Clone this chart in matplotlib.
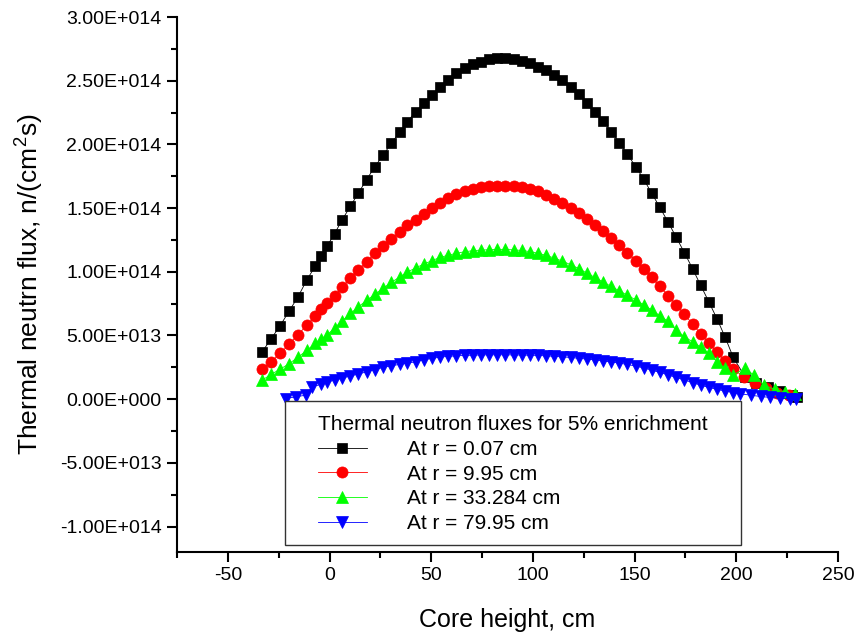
import matplotlib
matplotlib.use("Agg")
import matplotlib.pyplot as plt
from matplotlib.ticker import MultipleLocator, FuncFormatter
from matplotlib.patches import Rectangle

plt.rcParams['font.family'] = ['Liberation Sans', 'DejaVu Sans']
plt.rcParams['mathtext.fontset'] = 'custom'
plt.rcParams['mathtext.rm'] = 'Liberation Sans'
plt.rcParams['mathtext.it'] = 'Liberation Sans'
plt.rcParams['axes.unicode_minus'] = False

# Core height grid (cm)
x_main = [-33.1, -28.7, -24.3, -19.9, -15.6, -11.2, -7.0, -4.1, -1.1, 2.5, 6.3, 10.3,
          14.2, 18.2, 22.3, 26.4, 30.4, 34.4, 38.3, 42.3, 46.4, 50.4, 54.3, 58.3,
          62.4, 66.4, 70.3, 74.3, 78.3, 82.4, 86.5, 90.5, 94.6, 98.7, 102.6, 106.6,
          110.6, 114.5, 118.5, 122.5, 126.5, 130.5, 134.5, 138.5, 142.5, 146.5,
          150.5, 154.5, 158.4, 162.4, 166.5, 170.5, 174.5, 178.5, 182.4, 186.5,
          190.5, 194.4, 198.5]

# r = 0.07 cm  (units of 1e14)
x_r1 = x_main + [204.5, 209.5, 215.5, 221.5, 227.5, 230.0]
y_r1 = [0.372, 0.474, 0.576, 0.691, 0.80, 0.935, 1.045, 1.126, 1.204, 1.30, 1.41, 1.516,
        1.618, 1.723, 1.825, 1.917, 2.008, 2.095, 2.178, 2.257, 2.323, 2.388, 2.449, 2.506,
        2.558, 2.598, 2.629, 2.65, 2.668, 2.676, 2.676, 2.67, 2.658, 2.637, 2.61, 2.58,
        2.545, 2.506, 2.453, 2.393, 2.328, 2.257, 2.184, 2.10, 2.013, 1.922,
        1.825, 1.726, 1.616, 1.506, 1.388, 1.27, 1.149, 1.024, 0.896, 0.764,
        0.631, 0.49, 0.328,
        0.17, 0.13, 0.095, 0.06, 0.035, 0.02]

# r = 9.95 cm
x_r2 = x_main + [203.7, 209.4, 214.4, 220.1, 225.8]
y_r2 = [0.233, 0.293, 0.359, 0.43, 0.503, 0.581, 0.652, 0.705, 0.757, 0.81, 0.88, 0.953,
        1.013, 1.079, 1.144, 1.204, 1.26, 1.314, 1.367, 1.41, 1.455, 1.497, 1.537, 1.58,
        1.613, 1.636, 1.653, 1.665, 1.672, 1.676, 1.676, 1.673, 1.665, 1.652, 1.632, 1.606,
        1.575, 1.54, 1.50, 1.458, 1.414, 1.367, 1.318, 1.265, 1.21, 1.15,
        1.088, 1.02, 0.955, 0.885, 0.812, 0.74, 0.665, 0.59, 0.515, 0.44,
        0.37, 0.30, 0.235,
        0.175, 0.123, 0.084, 0.05, 0.031]

# r = 33.284 cm
x_r3 = x_main + [204.2, 208.6, 213.5, 218.9, 223.9, 228.8]
y_r3 = [0.149, 0.195, 0.235, 0.278, 0.328, 0.383, 0.437, 0.47, 0.505, 0.56, 0.615, 0.673,
        0.725, 0.775, 0.823, 0.872, 0.917, 0.958, 0.998, 1.03, 1.06, 1.088, 1.112, 1.13,
        1.145, 1.157, 1.165, 1.17, 1.173, 1.175, 1.175, 1.172, 1.167, 1.158, 1.145, 1.128,
        1.107, 1.083, 1.056, 1.025, 0.99, 0.955, 0.92, 0.885, 0.85, 0.815,
        0.78, 0.74, 0.70, 0.655, 0.61, 0.54, 0.49, 0.45, 0.41, 0.359,
        0.293, 0.241, 0.189,
        0.241, 0.19, 0.11, 0.076, 0.057, 0.037]

# r = 79.95 cm
x_r4 = [-21.6, -16.7, -11.8, -8.5, -4.4] + x_main[8:] + [202.0, 207.0, 211.9, 216.8, 221.7, 226.6, 229.5]
y_r4 = [0.005, 0.018, 0.031, 0.097, 0.115,
        0.133, 0.15, 0.166, 0.182, 0.198, 0.214, 0.232, 0.25, 0.262, 0.273, 0.283, 0.293,
        0.31, 0.32, 0.33, 0.336, 0.34, 0.343, 0.345, 0.347, 0.348, 0.348, 0.348, 0.347,
        0.346, 0.345, 0.343, 0.34, 0.336, 0.332, 0.327, 0.321, 0.315, 0.308, 0.30, 0.292,
        0.283, 0.272, 0.26, 0.245, 0.228, 0.21, 0.19, 0.17, 0.15, 0.13, 0.11, 0.092,
        0.077, 0.064, 0.052,
        0.042, 0.031, 0.021, 0.013, 0.008, 0.003, 0.0]

labels = ["At r = 0.07 cm", "At r = 9.95 cm", "At r = 33.284 cm", "At r = 79.95 cm"]
colors = ["#000000", "#FF0000", "#00FF00", "#0000FF"]
markers = ["s", "o", "^", "v"]
sizes = [7.5, 8, 8.5, 8.5]
legend_title = "Thermal neutron fluxes for 5% enrichment"
scale = 1e14

fig = plt.figure(figsize=(8.57, 6.33), dpi=100)
ax = fig.add_axes([177/857, 81/633, 661/857, 535/633])

series = [(x_r1, y_r1), (x_r2, y_r2), (x_r3, y_r3), (x_r4, y_r4)]
for (xs, ys), lab, c, m, ms in zip(series, labels, colors, markers, sizes):
    ax.plot(xs, [v * scale for v in ys], color=c, marker=m, markersize=ms,
            linewidth=0.6, markeredgewidth=0.5, markeredgecolor=c, label=lab)

ax.set_xlim(-75, 250)
ax.set_ylim(-1.2e14, 3.0e14)
ax.xaxis.set_major_locator(MultipleLocator(50))
ax.xaxis.set_minor_locator(MultipleLocator(25))
ax.yaxis.set_major_locator(MultipleLocator(0.5e14))
ax.yaxis.set_minor_locator(MultipleLocator(0.25e14))

def sci(v, pos):
    if abs(v) < 1:
        return "0.00E+000"
    s = "%.2E" % v
    mant, exp = s.split("E")
    sign = exp[0]
    return "%sE%s%03d" % (mant, sign, abs(int(exp)))

ax.yaxis.set_major_formatter(FuncFormatter(sci))

for side in ["top", "right"]:
    ax.spines[side].set_visible(False)
for side in ["left", "bottom"]:
    ax.spines[side].set_linewidth(1.5)

ax.tick_params(which="major", direction="out", length=7, width=1.5, labelsize=14, pad=4)
ax.tick_params(which="minor", direction="out", length=4, width=1.5)

ax.set_xlabel("Core height, cm", fontsize=18, labelpad=17)
ax.set_ylabel(r"Thermal neutrn flux, n/(cm$^2$s)", fontsize=19, labelpad=10)

# legend frame
ax.add_patch(Rectangle(((285-177)/661, (552-545)/535), (741-285)/661, (545-401)/535,
                       transform=ax.transAxes, facecolor="white", edgecolor="#333333",
                       linewidth=1.0, zorder=4))

leg = ax.legend(title=legend_title, loc="upper left",
                bbox_to_anchor=((318-177)/661, (552-415)/535),
                fontsize=15, title_fontsize=15, numpoints=1, handlelength=2.35,
                handletextpad=1.9, frameon=False, borderpad=0,
                labelspacing=0.28, borderaxespad=0)
leg.set_zorder(5)
leg._legend_box.align = "left"

fig.savefig("out.png", dpi=100)
